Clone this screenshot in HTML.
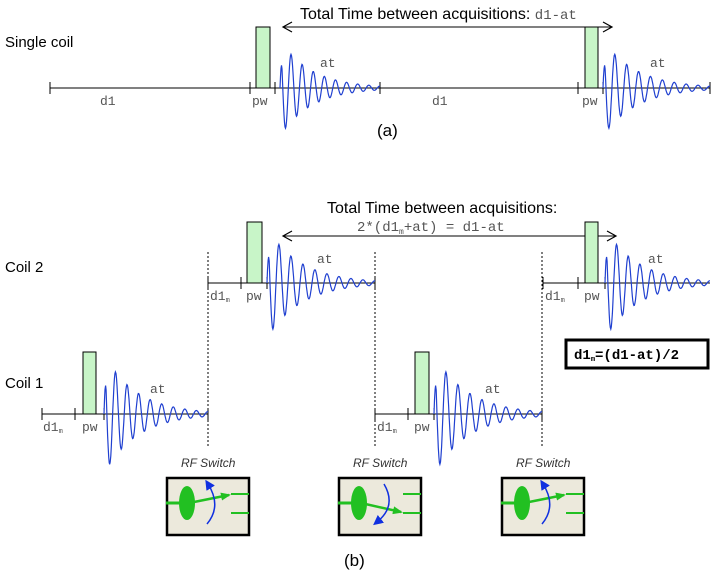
<!DOCTYPE html>
<html><head><meta charset="utf-8"><style>
body{margin:0;background:#fff;}
svg{display:block;}
.s{font-family:"Liberation Sans",sans-serif;}
.m{font-family:"Liberation Mono",monospace;fill:#555;}
</style></head><body>
<svg id="c" width="714" height="574" viewBox="0 0 714 574" xmlns="http://www.w3.org/2000/svg">
<defs>
<marker id="ah" markerUnits="userSpaceOnUse" markerWidth="12" markerHeight="12" refX="10" refY="6" orient="auto-start-reverse"><path d="M1,1 L10,6 L1,11" fill="none" stroke="#000" stroke-width="1.2"/></marker>
<marker id="bh" markerUnits="userSpaceOnUse" markerWidth="10" markerHeight="10" refX="5" refY="5" orient="auto"><path d="M0,0 L10,5 L0,10z" fill="#1030e0"/></marker>
<marker id="gh" markerUnits="userSpaceOnUse" markerWidth="10" markerHeight="10" refX="8" refY="5" orient="auto"><path d="M0,1 L10,5 L0,9z" fill="#22c022"/></marker>
</defs>
<!-- Panel (a) -->
<text class="s" x="5" y="47" font-size="15">Single coil</text>
<text class="s" x="300" y="19" font-size="16">Total Time between acquisitions: <tspan class="m" font-size="14">d1-at</tspan></text>
<line x1="283" y1="27" x2="612" y2="27" stroke="#000" marker-end="url(#ah)" marker-start="url(#ah)"/>
<line x1="50" y1="88" x2="710" y2="88" stroke="#000"/>
<g id="ticks"></g>
<text class="m" x="100" y="105" font-size="13">d1</text>
<text class="m" x="252" y="105" font-size="13">pw</text>
<text class="m" x="432" y="105" font-size="13">d1</text>
<text class="m" x="582" y="105" font-size="13">pw</text>
<text class="m" x="320" y="67" font-size="13">at</text>
<text class="m" x="650" y="67" font-size="13">at</text>
<text class="s" x="377" y="136" font-size="17">(a)</text>
<!-- Panel (b) -->
<text class="s" x="327" y="213" font-size="16">Total Time between acquisitions:</text>
<text class="m" x="357" y="231" font-size="14">2*(d1<tspan font-size="8" dy="3">m</tspan><tspan dy="-3">+at) = d1-at</tspan></text>
<line x1="283" y1="236" x2="616" y2="236" stroke="#000" marker-end="url(#ah)" marker-start="url(#ah)"/>
<text class="s" x="5" y="272" font-size="15">Coil 2</text>
<text class="s" x="5" y="388" font-size="15">Coil 1</text>
<line x1="208" y1="283" x2="375" y2="283" stroke="#000"/>
<line x1="543" y1="283" x2="710" y2="283" stroke="#000"/>
<line x1="42" y1="414" x2="208" y2="414" stroke="#000"/>
<line x1="375" y1="414" x2="542" y2="414" stroke="#000"/>
<line x1="208" y1="252" x2="208" y2="446" stroke="#000" stroke-dasharray="2,2"/>
<line x1="375" y1="252" x2="375" y2="446" stroke="#000" stroke-dasharray="2,2"/>
<line x1="542" y1="252" x2="542" y2="446" stroke="#000" stroke-dasharray="2,2"/>
<text class="m" x="210" y="300" font-size="13">d1<tspan font-size="7" dy="2">m</tspan></text>
<text class="m" x="246" y="300" font-size="13">pw</text>
<text class="m" x="545" y="300" font-size="13">d1<tspan font-size="7" dy="2">m</tspan></text>
<text class="m" x="584" y="300" font-size="13">pw</text>
<text class="m" x="43" y="431" font-size="13">d1<tspan font-size="7" dy="2">m</tspan></text>
<text class="m" x="82" y="431" font-size="13">pw</text>
<text class="m" x="377" y="431" font-size="13">d1<tspan font-size="7" dy="2">m</tspan></text>
<text class="m" x="414" y="431" font-size="13">pw</text>
<text class="m" x="317" y="263" font-size="13">at</text>
<text class="m" x="648" y="263" font-size="13">at</text>
<text class="m" x="150" y="393" font-size="13">at</text>
<text class="m" x="485" y="393" font-size="13">at</text>
<rect x="566" y="340" width="142" height="28" fill="#fff" stroke="#000" stroke-width="3"/>
<text x="574" y="359" font-size="14" font-weight="bold" font-family="Liberation Mono,monospace">d1<tspan font-size="7" dy="2">m</tspan><tspan dy="-2">=(d1-at)/2</tspan></text>
<g id="sw"></g>
<text class="s" x="344" y="566" font-size="17">(b)</text>
<g id="marks"></g>
</svg>
<script>
// pulse: [x, width, topY, baseY]
const pulses=[[256,14,27,88],[585,13,27,88],[247,15,222,283],[585,13,222,283],[83,13,352,414],[415,14,352,414]];
// fid: [startX, endX, baseY, amplitude]
const fids=[[280,380,88,48],[603,710,88,48],[267,375,283,55],[605,710,283,55],[104,208,414,60],[434,542,414,60]];
const tickXs=[[50,88],[250,88],[275,88],[380,88],[578,88],[603,88],[710,88],[208,283],[241,283],[267,283],[375,283],[543,283],[578,283],[605,283],[42,414],[75,414],[104,414],[208,414],[375,414],[408,414],[434,414],[542,414]];
// switch: [leftX, state] state 0 = upper, 1 = lower
const switches=[[167,0],[339,1],[502,0]];
const NS="http://www.w3.org/2000/svg";
const svg=document.getElementById('c');
function mk(t,a,p){const e=document.createElementNS(NS,t);for(const k in a)e.setAttribute(k,a[k]);(p||svg).appendChild(e);return e;}
const tg=document.getElementById('ticks');
tickXs.forEach(t=>{const e=mk('line',{x1:t[0],x2:t[0],y1:t[1]-6,y2:t[1]+6,stroke:'#000'},tg);

});
const mg=document.getElementById('marks');
pulses.forEach(p=>{const e=mk('rect',{x:p[0],y:p[2],width:p[1],height:p[3]-p[2],fill:'#c8f5c8',stroke:'#000'},mg);

});
fids.forEach(f=>{let d='';const n=200;for(let i=0;i<=n;i++){const t=i/n;const x=f[0]+(f[1]-f[0])*t;const y=f[2]-f[3]*Math.exp(-3.2*t)*Math.cos(2*Math.PI*9*t)*(t<0.02?t/0.02:1);d+=(i?'L':'M')+x.toFixed(1)+','+y.toFixed(1);}
const e=mk('path',{d:d,fill:'none',stroke:'#2040d0','stroke-width':1.2},mg);

});
const sg=document.getElementById('sw');
switches.forEach(s=>{const x=s[0],y=478;const g=mk('g',{},sg);


const lb=mk('text',{x:x+14,y:467,'font-size':12,'font-style':'italic','font-family':'Liberation Sans,sans-serif',fill:'#333'},g);lb.textContent='RF Switch';
mk('rect',{x:x,y:y,width:82,height:57,fill:'#ece9dc',stroke:'#000','stroke-width':2.5},g);
mk('line',{x1:x-1,y1:y+25,x2:x+14,y2:y+25,stroke:'#22c022','stroke-width':3},g);
mk('line',{x1:x+64,y1:y+16,x2:x+82,y2:y+16,stroke:'#22c022','stroke-width':2},g);
mk('line',{x1:x+64,y1:y+35,x2:x+82,y2:y+35,stroke:'#22c022','stroke-width':2},g);
const ty=s[1]?y+35:y+16;
mk('line',{x1:x+22,y1:y+25,x2:x+62,y2:ty+(s[1]?-1:1),stroke:'#22c022','stroke-width':2.5,'marker-end':'url(#gh)'},g);
mk('ellipse',{cx:x+20,cy:y+25,rx:8,ry:17,fill:'#22c022'},g);
if(s[1])mk('path',{d:`M${x+45},${y+6} Q${x+58},${y+28} ${x+38},${y+44}`,fill:'none',stroke:'#1030e0','stroke-width':1.5,'marker-end':'url(#bh)'},g);
else mk('path',{d:`M${x+40},${y+46} Q${x+55},${y+28} ${x+41},${y+6}`,fill:'none',stroke:'#1030e0','stroke-width':1.5,'marker-end':'url(#bh)'},g);
});
</script>
</body></html>
